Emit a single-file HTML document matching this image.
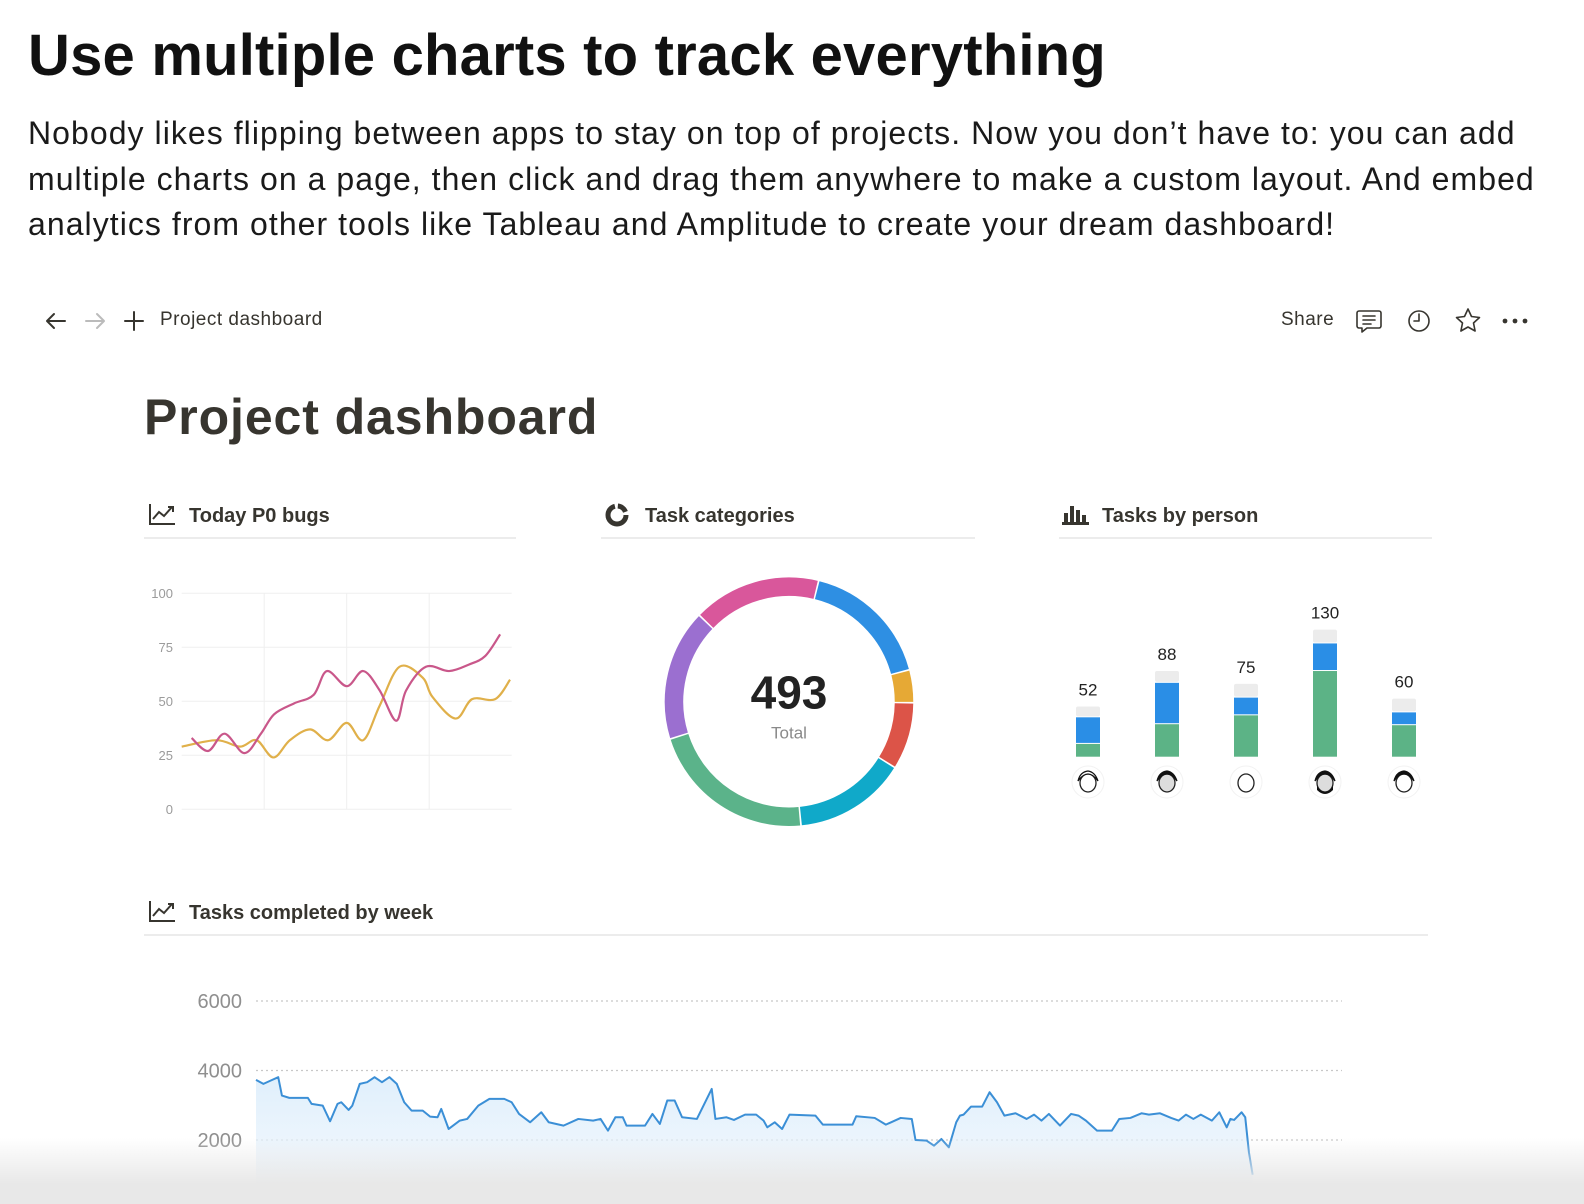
<!DOCTYPE html>
<html><head><meta charset="utf-8"><style>
*{margin:0;padding:0;box-sizing:border-box}
body{width:1584px;height:1204px;overflow:hidden;background:#fff;font-family:"Liberation Sans",sans-serif;position:relative;color:#111}
.abs{position:absolute;white-space:nowrap}
#title{left:28px;top:22px;font-size:58px;font-weight:bold;letter-spacing:0.2px;color:#111}
#intro{left:28px;top:111px;font-size:32px;line-height:45.5px;letter-spacing:1.05px;color:#1a1a1a}
.nav{top:309px;font-size:19px;color:#37352f;letter-spacing:0.5px}
.sect{font-size:20px;font-weight:bold;color:#37352f;letter-spacing:0}
.rule{position:absolute;height:2px;background:#ececec}
</style></head><body>
<div class="abs" id="title">Use multiple charts to track everything</div>
<div class="abs" id="intro">Nobody likes flipping between apps to stay on top of projects. Now you don’t have to: you can add<br>multiple charts on a page, then click and drag them anywhere to make a custom layout. And embed<br>analytics from other tools like Tableau and Amplitude to create your dream dashboard!</div>

<svg class="abs" style="left:0;top:0" width="1584" height="1204">
 <g stroke="#37352f" stroke-width="2" fill="none" stroke-linecap="round" stroke-linejoin="round">
  <g><path d="M47 321h18M47 321l7-7M47 321l7 7"/></g>
  <g stroke="#bbb"><path d="M86 321h18M104 321l-7-7M104 321l-7 7"/></g>
  <g><path d="M134 312v18M125 321h18"/></g>
  <g stroke-width="1.6"><path d="M1359 311h20a2 2 0 0 1 2 2v13a2 2 0 0 1-2 2h-12l-5 4v-4h-3a2 2 0 0 1-2-2v-13a2 2 0 0 1 2-2z"/><path d="M1363 316h12M1363 320h12M1363 324h8"/></g>
  <g stroke-width="1.6"><circle cx="1419" cy="321" r="10"/><path d="M1419 314v7h-5"/></g>
  <g stroke-width="1.6"><path d="M1468 309l3.5 7.5 8 1-6 5.5 1.6 8-7.1-4-7.1 4 1.6-8-6-5.5 8-1z"/></g>
 </g>
 <g fill="#37352f"><circle cx="1505" cy="321" r="2.4"/><circle cx="1515" cy="321" r="2.4"/><circle cx="1525" cy="321" r="2.4"/></g>
 <g stroke="#37352f" stroke-width="2" fill="none">
  <g><path d="M150 504v20h25"/><path d="M153 519l6-7 5 4 8-9M168 507h5v5"/></g>
  <g><path d="M150 901v20h25"/><path d="M153 916l6-7 5 4 8-9M168 904h5v5"/></g>
 </g>
 <g><circle cx="617" cy="515" r="9" fill="none" stroke="#37352f" stroke-width="5" stroke-dasharray="40 3 10 4"/></g>
 <g fill="#37352f"><rect x="1062" y="522" width="27" height="3"/><rect x="1064" y="513" width="4" height="9"/><rect x="1070" y="506" width="4" height="16"/><rect x="1076" y="510" width="4" height="12"/><rect x="1082" y="515" width="4" height="7"/></g>
</svg>
<div class="abs nav" style="left:160px">Project dashboard</div>
<div class="abs nav" style="left:1281px">Share</div>
<div class="abs" style="left:144px;top:388px;font-size:50px;font-weight:bold;color:#37352f;letter-spacing:0.9px">Project dashboard</div>

<div class="abs sect" style="left:189px;top:505px">Today P0 bugs</div>
<div class="abs sect" style="left:645px;top:505px">Task categories</div>
<div class="abs sect" style="left:1102px;top:505px">Tasks by person</div>
<div class="abs sect" style="left:189px;top:902px">Tasks completed by week</div>
<div class="rule" style="left:144px;top:537px;width:372px"></div>
<div class="rule" style="left:601px;top:537px;width:374px"></div>
<div class="rule" style="left:1059px;top:537px;width:373px"></div>
<div class="rule" style="left:144px;top:934px;width:1284px"></div>

<svg id="charts" class="abs" style="left:0;top:0" width="1584" height="1204"></svg>
<div class="abs" style="left:0;top:1138px;width:1584px;height:66px;background:linear-gradient(rgba(236,236,236,0),#e8e8e8 70%)"></div>

<script>
// ---- Today P0 bugs ----
const bugTicks = [0, 25, 50, 75, 100];
const pinkT = [3, 8, 13, 19, 24, 28, 34, 40, 44, 50, 55, 60, 65, 68, 74, 81, 87, 92, 96.5];
const pinkV = [33, 27, 35, 26, 35, 44, 49, 53, 64, 57, 64, 55, 41, 55, 66, 64, 67, 71, 81];
const yellowT = [0, 10.6, 17.7, 22.7, 27.8, 32.8, 38.9, 44.4, 50, 55, 60, 66, 73, 76, 83, 88, 95, 99.5];
const yellowV = [29, 32, 29, 32, 24, 32, 37, 32, 40, 32, 48, 66, 61, 52, 42, 51, 51, 60];
// ---- Task categories ----
const catNames = ["Feature", "Docs", "Bug", "Design", "Research", "Ops", "Marketing"];
const catValues = [84, 21, 43, 72, 107, 84, 82];
const catColors = ["#2e8fe3", "#e6a935", "#dc5448", "#10a9c9", "#5bb38a", "#9b6fd0", "#d9579b"];
const catTotal = ["493"];
// ---- Tasks by person ----
const people = ["Ana", "Ben", "Cal", "Dev", "Eve"];
const doneV = [14, 34, 43, 88, 33];
const progV = [27, 42, 18, 28, 13];
const todoV = [11, 12, 14, 14, 14];
// ---- Tasks completed by week ----
const weekTicks = [2000, 4000, 6000];
const weekX = [0,2,4,6,7,9,14,15,18,20,22,23,25,26,28,30,32,34,36,38,40,42,45,47,49,50,52,55,57,60,63,67,69,71,74,77,79,83,87,91,93,95,97,99,100,105,107,109,111,113,115,119,121,123,124,127,129,132,135,137,138,140,142,144,151,153,161,162,167,170,174,177,178,181,183,185,187,189,190,191,193,196,198,200,202,205,208,210,212,214,217,220,222,224,227,231,233,236,239,241,244,247,249,251,253,255,258,260,262,263,264,266,267,268,269];
const weekV = [3731,3615,3712,3808,3279,3212,3212,3039,2990,2539,3039,3087,2865,2990,3615,3664,3808,3664,3808,3615,3087,2846,2846,2673,2654,2894,2317,2558,2606,2990,3183,3183,3087,2750,2510,2798,2510,2414,2606,2558,2606,2269,2654,2654,2414,2414,2750,2462,3135,3135,2654,2606,3039,3471,2606,2654,2577,2731,2731,2558,2365,2510,2317,2731,2702,2442,2442,2683,2635,2442,2635,2606,2000,1981,1837,2029,1789,2510,2702,2731,2962,2962,3375,3087,2702,2769,2606,2731,2558,2750,2414,2750,2702,2558,2269,2269,2606,2635,2769,2731,2769,2635,2558,2731,2606,2731,2558,2798,2365,2606,2577,2798,2654,1644,1000];

const NS = "http://www.w3.org/2000/svg";
const svg = document.getElementById("charts");
function mk(tag, attrs, parent) {
  const e = document.createElementNS(NS, tag);
  for (const k in attrs) e.setAttribute(k, attrs[k]);
  (parent || svg).appendChild(e);
  return e;
}
function smooth(pts) {
  let d = "M" + pts[0][0] + " " + pts[0][1];
  for (let i = 0; i < pts.length - 1; i++) {
    const p0 = pts[i - 1] || pts[i], p1 = pts[i], p2 = pts[i + 1], p3 = pts[i + 2] || p2;
    const c1x = p1[0] + (p2[0] - p0[0]) / 6, c1y = p1[1] + (p2[1] - p0[1]) / 6;
    const c2x = p2[0] - (p3[0] - p1[0]) / 6, c2y = p2[1] - (p3[1] - p1[1]) / 6;
    d += ` C${c1x} ${c1y} ${c2x} ${c2y} ${p2[0]} ${p2[1]}`;
  }
  return d;
}

// Bugs chart axes
const bx = t => 181.7 + t / 100 * 330;
const by = v => 809.3 - v / 100 * 216;
bugTicks.forEach(v => {
  const g = mk("line", {x1: 181.7, x2: 511.7, y1: by(v), y2: by(v), stroke: "#efefef", "stroke-width": 1});
  
  
  const t = mk("text", {x: 173, y: by(v) + 4.5, "text-anchor": "end", "font-size": 13, fill: "#9b9b9b", "font-family": "Liberation Sans"});
  t.textContent = v;
  
  
});
[25, 50, 75].forEach(t => {
  const g = mk("line", {x1: bx(t), x2: bx(t), y1: by(100), y2: by(0), stroke: "#efefef", "stroke-width": 1});
  
  
});
const yl = mk("path", {d: smooth(yellowT.map((t, i) => [bx(t), by(yellowV[i])])), fill: "none", stroke: "#e0b04a", "stroke-width": 2.2});


const pl = mk("path", {d: smooth(pinkT.map((t, i) => [bx(t), by(pinkV[i])])), fill: "none", stroke: "#c9578a", "stroke-width": 2.2});



// Donut
const cx = 789, cy = 701.7, r = 115;
const sum = catValues.reduce((a, b) => a + b, 0);
let ang = 13.8;
catValues.forEach((v, i) => {
  const a0 = ang, a1 = ang + v / sum * 360;
  ang = a1;
  const p = a => [cx + r * Math.sin(a * Math.PI / 180), cy - r * Math.cos(a * Math.PI / 180)];
  const s = p(a0 + 0.4), e = p(a1 - 0.4);
  const seg = mk("path", {d: `M${s[0]} ${s[1]} A${r} ${r} 0 ${a1 - a0 > 180 ? 1 : 0} 1 ${e[0]} ${e[1]}`, fill: "none", stroke: catColors[i], "stroke-width": 18.5});
  
  
});
const tot = mk("text", {x: cx, y: cy + 7, "text-anchor": "middle", "font-size": 46, "font-weight": "bold", fill: "#222", "font-family": "Liberation Sans"});
tot.textContent = catTotal[0];


const tl = mk("text", {x: cx, y: cy + 37, "text-anchor": "middle", "font-size": 17, fill: "#8a8a8a", "font-family": "Liberation Sans"});
tl.textContent = "Total";



// Bars
const barX = i => 1088 + i * 79;
const barBase = 757.7, pxPer = 0.985;
people.forEach((p, i) => {
  const x = barX(i) - 12;
  let y = barBase;
  [[doneV[i], "#5cb386"], [progV[i], "#2a8ee6"], [todoV[i], "#ececec"]].forEach(([v, c], k) => {
    const h = v * pxPer;
    const rct = mk("rect", {x: x, y: y - h, width: 24, height: Math.max(h - 1, 0), fill: c, rx: k === 2 ? 2 : 0});
    
    
    y -= h;
  });
  const lbl = mk("text", {x: barX(i), y: y - 11, "text-anchor": "middle", "font-size": 17, fill: "#222", "font-family": "Liberation Sans"});
  lbl.textContent = doneV[i] + progV[i] + todoV[i];
  
  
  const av = mk("g", {});
  
  
  mk("circle", {cx: barX(i), cy: 782, r: 16, fill: "#fff", stroke: "#f2f2f2"}, av);
  mk("ellipse", {cx: barX(i), cy: 783, rx: 8, ry: 9, fill: i === 3 || i === 1 ? "#ddd" : "#fff", stroke: "#222", "stroke-width": 1.3}, av);
  if (i !== 2) mk("path", {d: `M${barX(i)-10} 781 q10 -14 20 0 q-3 -9 -10 -10 q-8 1 -10 10z`, fill: i === 0 ? "#fff" : "#111", stroke: "#111", "stroke-width": 1.2}, av);
  if (i === 3) mk("path", {d: `M${barX(i)-8} 786 q8 12 16 0 l0 4 q-8 8 -16 0z`, fill: "#111"}, av);
});

// Weekly chart
const wx = w => 256 + w * 3.705;
const wy = v => 1209.5 - v / 2000 * 69.5;
weekTicks.forEach(v => {
  const g = mk("line", {x1: 256, x2: 1342, y1: wy(v), y2: wy(v), stroke: "#c8c8c8", "stroke-width": 1.2, "stroke-dasharray": "2 3"});
  
  
  const t = mk("text", {x: 242, y: wy(v) + 7, "text-anchor": "end", "font-size": 20, fill: "#8f8f8f", "font-family": "Liberation Sans"});
  t.textContent = v;
  
  
});
const defs = mk("defs", {});
const lg = mk("linearGradient", {id: "wf", x1: 0, y1: 0, x2: 0, y2: 1}, defs);
mk("stop", {offset: 0, "stop-color": "#d8ebfb", "stop-opacity": 0.8}, lg);
mk("stop", {offset: 1, "stop-color": "#eef6fd", "stop-opacity": 0.6}, lg);
let d = "";
weekX.forEach((w, i) => { d += (i ? "L" : "M") + wx(w) + " " + wy(weekV[i]); });
const area = mk("path", {d: d + `L${wx(weekX[weekX.length-1])} 1204 L${wx(0)} 1204Z`, fill: "url(#wf)"});


const wl = mk("path", {d: d, fill: "none", stroke: "#3b8fd6", "stroke-width": 2, "stroke-linejoin": "round"});


</script>
</body></html>
